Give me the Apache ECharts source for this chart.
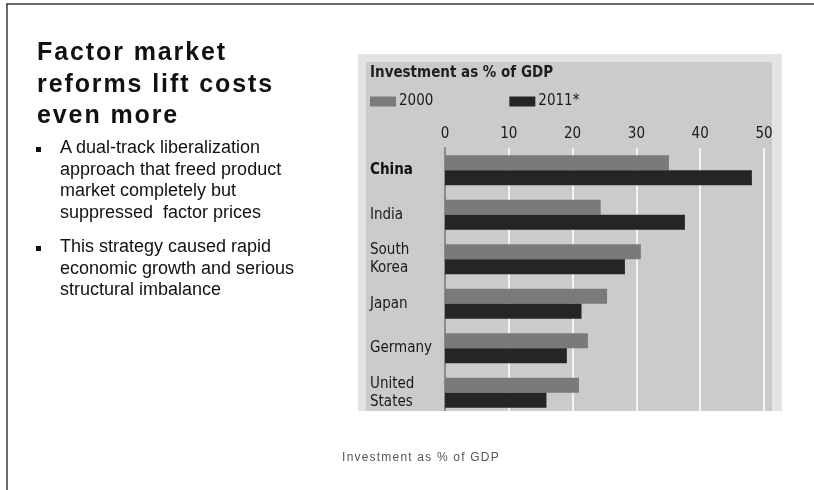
<!DOCTYPE html>
<html>
<head>
<meta charset="utf-8">
<script src="https://cdn.jsdelivr.net/npm/echarts@6/dist/echarts.min.js"></script>
<style>
  html, body { margin: 0; padding: 0; background: #ffffff; }
  #wrap { position: relative; width: 814px; height: 490px; overflow: hidden; }
  #main { position: absolute; left: 0; top: 0; width: 814px; height: 490px; }
  .slide-text { position: absolute; font-family: 'Liberation Sans', Arial, sans-serif; color: #111; white-space: pre; }
  #headline { left: 37px; top: 36px; font-size: 25px; font-weight: bold; line-height: 31.5px; letter-spacing: 1.9px; }
  .bullet { left: 60px; font-size: 18px; line-height: 21.5px; letter-spacing: 0px; }
  .mark { position: absolute; left: 36px; width: 5px; height: 5px; background: #111; }
  #caption { left: 421px; top: 450px; transform: translateX(-50%); font-size: 12px; letter-spacing: 1.2px; color: #555; }
</style>
</head>
<body>
<div id="wrap">
  <div id="main"></div>
</div>
<script>
// Investment as a share of GDP, by country
var categories = ['China', 'India', 'South\nKorea', 'Japan', 'Germany', 'United\nStates'];
var values2000 = [35.1, 24.4, 30.7, 25.4, 22.4, 21.0];
var values2011 = [48.1, 37.6, 28.2, 21.4, 19.1, 15.9];
var seriesNames = ['2000', '2011*'];
var axisMin = 0, axisMax = 50, axisStep = 10;

var headline = ['Factor market', 'reforms lift costs', 'even more'];
var bullets = [
  ['A dual-track liberalization', 'approach that freed product', 'market completely but', 'suppressed  factor prices'],
  ['This strategy caused rapid', 'economic growth and serious', 'structural imbalance']
];
var chartTitle = 'Investment as % of GDP';
var caption = 'Investment as % of GDP';

var chartFont = "'Liberation Sans Narrow', 'DejaVu Sans Condensed', 'Open Sans', sans-serif";

// slide headline, bullet list and caption
var wrap = document.getElementById('wrap');
function addText(id, cls, text, y) {
  var d = document.createElement('div');
  if (id) d.id = id;
  d.className = cls;
  d.textContent = text;
  if (y !== undefined) d.style.top = y + 'px';
  wrap.appendChild(d);
  return d;
}
addText('headline', 'slide-text', headline.join('\n'));

var bulletTop = 137;
bullets.forEach(function (lines) {
  var m = document.createElement('div');
  m.className = 'mark';
  m.style.top = (bulletTop + 10) + 'px';
  wrap.appendChild(m);
  addText(null, 'slide-text bullet', lines.join('\n'), bulletTop);
  bulletTop += lines.length * 21.5 + 13;
});
addText('caption', 'slide-text', caption);

var chart = echarts.init(document.getElementById('main'), null, { renderer: 'canvas' });

var graphics = [
  // slide frame
  { type: 'line', shape: { x1: 6, y1: 4, x2: 814, y2: 4 }, style: { stroke: '#3a3a3a', lineWidth: 1.5 }, z: 0 },
  { type: 'line', shape: { x1: 7, y1: 4, x2: 7, y2: 490 }, style: { stroke: '#3a3a3a', lineWidth: 1.5 }, z: 0 },
  // chart panel; the plot runs slightly past its lower edge, which is trimmed off
  { type: 'rect', shape: { x: 358, y: 54, width: 424, height: 357 }, style: { fill: '#e3e3e3' }, z: -10 },
  { type: 'rect', shape: { x: 366, y: 62, width: 406, height: 349 }, style: { fill: '#cbcbcb' }, z: -9 },
  { type: 'rect', shape: { x: 358, y: 411, width: 424, height: 8 }, style: { fill: '#ffffff' }, z: 100 }
];

chart.setOption({
  animation: false,
  backgroundColor: 'transparent',
  title: {
    text: chartTitle, left: 365, top: 61,
    textStyle: { fontFamily: chartFont, fontSize: 15, fontWeight: 'bold', color: '#1e1e1e' }
  },
  legend: {
    left: 365, top: 89, itemWidth: 26, itemHeight: 10, itemGap: 76, icon: 'rect',
    data: seriesNames,
    textStyle: { fontFamily: chartFont, fontSize: 15, color: '#1a1a1a', padding: [0, 0, 0, -2] }
  },
  grid: { left: 445, right: 50, top: 148, bottom: 75, containLabel: false },
  xAxis: {
    type: 'value', position: 'top', min: axisMin, max: axisMax, interval: axisStep,
    axisLine: { show: false }, axisTick: { show: false },
    axisLabel: { margin: 6, fontFamily: chartFont, fontSize: 15, color: '#1a1a1a' },
    splitLine: { show: true, lineStyle: { color: '#f4f4f4', width: 2 } }
  },
  yAxis: {
    type: 'category', data: categories, inverse: true,
    axisLine: { show: true, lineStyle: { color: '#8a8a8a', width: 2 } },
    axisTick: { show: false },
    axisLabel: {
      align: 'left', margin: 75, fontFamily: chartFont, fontSize: 15, color: '#1a1a1a', lineHeight: 18,
      formatter: function (v) { return v === 'China' ? '{b|' + v + '}' : v; },
      rich: { b: { fontFamily: chartFont, fontSize: 15, fontWeight: 'bold', color: '#111' } }
    }
  },
  series: [
    { name: seriesNames[0], type: 'bar', data: values2000, barWidth: 15, barGap: '0%', itemStyle: { color: '#7a7a7a' } },
    { name: seriesNames[1], type: 'bar', data: values2011, barWidth: 15, barGap: '0%', itemStyle: { color: '#252525' } }
  ],
  graphic: graphics
});
</script>
</body>
</html>
